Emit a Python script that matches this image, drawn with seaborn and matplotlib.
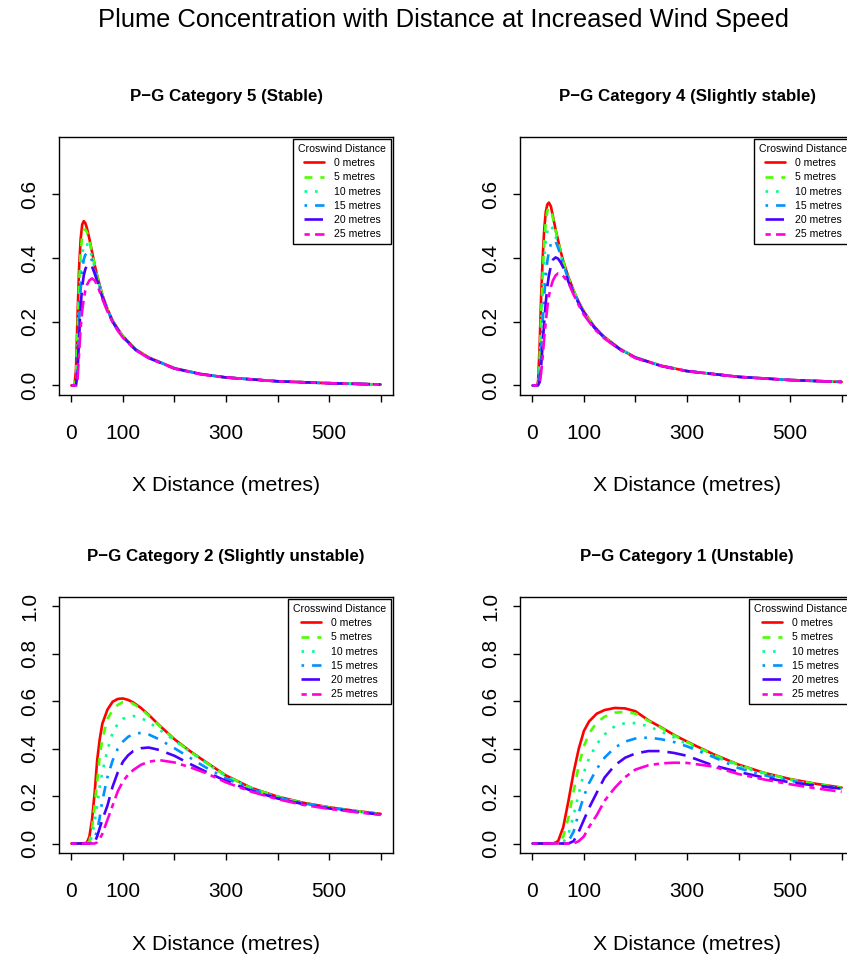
import matplotlib
matplotlib.use('Agg')
import matplotlib.pyplot as plt
import seaborn as sns

# distances along the plume (metres) and concentrations
cat5_x = [0, 6, 9, 12, 15, 18, 21, 24, 27, 30, 35, 40, 45, 50, 60, 70, 80, 90, 100, 125, 150, 200, 250, 300, 400, 500, 600]
cat5_0 = [0, 0, 0.05, 0.22, 0.37, 0.46, 0.505, 0.516, 0.51, 0.495, 0.46, 0.42, 0.38, 0.345, 0.285, 0.24, 0.204, 0.178, 0.155, 0.113, 0.088, 0.054, 0.036, 0.025, 0.013, 0.007, 0.003]
cat5_5 = [0, 0, 0.03, 0.17, 0.32, 0.42, 0.47, 0.488, 0.49, 0.482, 0.455, 0.418, 0.378, 0.344, 0.284, 0.239, 0.203, 0.177, 0.154, 0.113, 0.088, 0.054, 0.036, 0.025, 0.013, 0.007, 0.003]
cat5_10 = [0, 0, 0.01, 0.12, 0.26, 0.36, 0.415, 0.44, 0.447, 0.444, 0.43, 0.405, 0.372, 0.34, 0.282, 0.238, 0.202, 0.176, 0.154, 0.112, 0.087, 0.054, 0.036, 0.025, 0.013, 0.007, 0.003]
cat5_15 = [0, 0, 0, 0.07, 0.2, 0.3, 0.36, 0.395, 0.41, 0.415, 0.41, 0.392, 0.362, 0.335, 0.28, 0.236, 0.201, 0.175, 0.153, 0.112, 0.087, 0.054, 0.036, 0.025, 0.013, 0.007, 0.003]
cat5_20 = [0, 0, 0, 0.04, 0.15, 0.25, 0.31, 0.345, 0.365, 0.376, 0.381, 0.374, 0.352, 0.328, 0.277, 0.235, 0.2, 0.174, 0.152, 0.111, 0.086, 0.053, 0.036, 0.025, 0.013, 0.007, 0.003]
cat5_25 = [0, 0, 0, 0.02, 0.1, 0.18, 0.235, 0.27, 0.298, 0.315, 0.33, 0.336, 0.33, 0.316, 0.272, 0.232, 0.198, 0.172, 0.15, 0.11, 0.086, 0.053, 0.035, 0.025, 0.013, 0.007, 0.003]

cat4_x = [0, 8, 11, 14, 17, 20, 23, 26, 29, 32, 36, 40, 45, 50, 55, 60, 70, 80, 90, 100, 120, 140, 170, 200, 250, 300, 400, 500, 600]
cat4_0 = [0, 0, 0.01, 0.12, 0.28, 0.40, 0.49, 0.545, 0.568, 0.574, 0.562, 0.53, 0.49, 0.455, 0.42, 0.39, 0.34, 0.298, 0.262, 0.232, 0.185, 0.152, 0.115, 0.088, 0.062, 0.045, 0.027, 0.017, 0.011]
cat4_5 = [0, 0, 0.005, 0.08, 0.22, 0.35, 0.45, 0.515, 0.548, 0.558, 0.552, 0.525, 0.487, 0.452, 0.418, 0.388, 0.338, 0.297, 0.261, 0.231, 0.184, 0.151, 0.115, 0.088, 0.062, 0.045, 0.027, 0.017, 0.011]
cat4_10 = [0, 0, 0, 0.06, 0.18, 0.3, 0.39, 0.45, 0.483, 0.499, 0.502, 0.49, 0.467, 0.44, 0.41, 0.382, 0.335, 0.295, 0.26, 0.23, 0.183, 0.15, 0.114, 0.087, 0.062, 0.045, 0.027, 0.017, 0.011]
cat4_15 = [0, 0, 0, 0.03, 0.11, 0.2, 0.28, 0.345, 0.39, 0.42, 0.445, 0.456, 0.452, 0.432, 0.407, 0.38, 0.332, 0.293, 0.259, 0.229, 0.182, 0.15, 0.114, 0.087, 0.061, 0.045, 0.027, 0.017, 0.011]
cat4_20 = [0, 0, 0, 0.01, 0.06, 0.13, 0.2, 0.26, 0.31, 0.345, 0.375, 0.395, 0.402, 0.398, 0.386, 0.37, 0.325, 0.29, 0.257, 0.228, 0.182, 0.149, 0.113, 0.087, 0.061, 0.045, 0.027, 0.017, 0.011]
cat4_25 = [0, 0, 0, 0.005, 0.04, 0.09, 0.15, 0.2, 0.245, 0.28, 0.31, 0.33, 0.345, 0.352, 0.35, 0.343, 0.322, 0.285, 0.252, 0.222, 0.178, 0.147, 0.112, 0.086, 0.061, 0.045, 0.027, 0.017, 0.011]

cat2_x = [0, 20, 30, 35, 40, 45, 50, 55, 60, 70, 80, 90, 100, 110, 120, 135, 150, 170, 200, 230, 260, 300, 350, 400, 450, 500, 550, 600]
cat2_0 = [0, 0, 0.003, 0.03, 0.1, 0.21, 0.35, 0.44, 0.505, 0.565, 0.598, 0.61, 0.612, 0.606, 0.595, 0.572, 0.543, 0.5, 0.44, 0.39, 0.345, 0.287, 0.234, 0.198, 0.172, 0.153, 0.138, 0.125]
cat2_5 = [0, 0, 0, 0.01, 0.06, 0.16, 0.26, 0.37, 0.44, 0.525, 0.563, 0.585, 0.597, 0.597, 0.59, 0.568, 0.54, 0.498, 0.438, 0.388, 0.343, 0.286, 0.233, 0.197, 0.171, 0.152, 0.137, 0.125]
cat2_10 = [0, 0, 0, 0.005, 0.03, 0.09, 0.16, 0.24, 0.3, 0.395, 0.468, 0.505, 0.526, 0.535, 0.538, 0.53, 0.512, 0.482, 0.435, 0.388, 0.343, 0.283, 0.232, 0.196, 0.17, 0.152, 0.137, 0.124]
cat2_15 = [0, 0, 0, 0, 0.005, 0.02, 0.055, 0.11, 0.18, 0.28, 0.35, 0.4, 0.43, 0.45, 0.462, 0.467, 0.46, 0.44, 0.402, 0.362, 0.322, 0.275, 0.228, 0.194, 0.17, 0.151, 0.136, 0.124]
cat2_20 = [0, 0, 0, 0, 0, 0.005, 0.03, 0.065, 0.1, 0.16, 0.24, 0.3, 0.345, 0.372, 0.39, 0.402, 0.405, 0.395, 0.37, 0.336, 0.304, 0.264, 0.222, 0.19, 0.166, 0.148, 0.134, 0.122]
cat2_25 = [0, 0, 0, 0, 0, 0, 0.005, 0.02, 0.04, 0.1, 0.16, 0.22, 0.262, 0.29, 0.31, 0.332, 0.345, 0.352, 0.342, 0.322, 0.298, 0.258, 0.218, 0.187, 0.163, 0.146, 0.133, 0.121]

cat1_x = [0, 40, 50, 60, 70, 80, 90, 100, 110, 125, 140, 160, 180, 200, 225, 250, 275, 300, 350, 400, 450, 500, 550, 600]
cat1_0 = [0, 0, 0.01, 0.07, 0.18, 0.3, 0.4, 0.475, 0.515, 0.548, 0.563, 0.572, 0.57, 0.558, 0.52, 0.49, 0.458, 0.43, 0.378, 0.333, 0.298, 0.272, 0.252, 0.236]
cat1_5 = [0, 0, 0.003, 0.03, 0.11, 0.22, 0.33, 0.41, 0.465, 0.51, 0.535, 0.552, 0.555, 0.548, 0.518, 0.488, 0.456, 0.428, 0.376, 0.332, 0.297, 0.271, 0.251, 0.235]
cat1_10 = [0, 0, 0, 0.005, 0.04, 0.12, 0.21, 0.3, 0.36, 0.42, 0.46, 0.495, 0.508, 0.508, 0.495, 0.472, 0.447, 0.42, 0.37, 0.328, 0.294, 0.268, 0.248, 0.232]
cat1_15 = [0, 0, 0, 0, 0.01, 0.05, 0.13, 0.2, 0.255, 0.315, 0.362, 0.405, 0.43, 0.443, 0.447, 0.44, 0.428, 0.41, 0.366, 0.318, 0.288, 0.265, 0.246, 0.232]
cat1_20 = [0, 0, 0, 0, 0, 0.01, 0.05, 0.1, 0.15, 0.215, 0.278, 0.33, 0.362, 0.38, 0.39, 0.39, 0.382, 0.37, 0.33, 0.302, 0.278, 0.258, 0.244, 0.231]
cat1_25 = [0, 0, 0, 0, 0, 0, 0.01, 0.03, 0.07, 0.12, 0.18, 0.235, 0.28, 0.312, 0.33, 0.338, 0.341, 0.34, 0.325, 0.293, 0.27, 0.25, 0.233, 0.218]

labels = ['0 metres', '5 metres', '10 metres', '15 metres', '20 metres', '25 metres']
colours = ['#FF0000', '#49FF00', '#00FF92', '#0092FF', '#4900FF', '#FF00DB']
styles = ['-', (0, (3, 3)), (0, (1, 3)), (0, (1, 3, 4, 3)), (0, (7, 3)), (0, (2, 2, 6, 2))]

sns.set_theme(style='white')
plt.rcParams['font.family'] = ['Liberation Sans', 'DejaVu Sans']
plt.rcParams['axes.edgecolor'] = 'black'
plt.rcParams['axes.linewidth'] = 1.0
plt.rcParams['text.color'] = 'black'
plt.rcParams['axes.labelcolor'] = 'black'

fig = plt.figure(figsize=(8.47, 9.56), dpi=100)
fig.suptitle('Plume Concentration with Distance at Increased Wind Speed',
             x=443.5 / 847, y=1 - 20 / 956, va='center', fontsize=18.4)

W = 334 / 847
panels = [
    ([59 / 847, 1 - 395 / 956, W, 258 / 956], cat5_x, [cat5_0, cat5_5, cat5_10, cat5_15, cat5_20, cat5_25],
     'P\u2212G Category 5 (Stable)', 'Croswind Distance', 0.75, [0, 0.2, 0.4, 0.6]),
    ([520 / 847, 1 - 395 / 956, W, 258 / 956], cat4_x, [cat4_0, cat4_5, cat4_10, cat4_15, cat4_20, cat4_25],
     'P\u2212G Category 4 (Slightly stable)', 'Croswind Distance', 0.75, [0, 0.2, 0.4, 0.6]),
    ([59 / 847, 1 - 853 / 956, W, 256 / 956], cat2_x, [cat2_0, cat2_5, cat2_10, cat2_15, cat2_20, cat2_25],
     'P\u2212G Category 2 (Slightly unstable)', 'Crosswind Distance', 1.0, [0, 0.2, 0.4, 0.6, 0.8, 1.0]),
    ([520 / 847, 1 - 853 / 956, W, 256 / 956], cat1_x, [cat1_0, cat1_5, cat1_10, cat1_15, cat1_20, cat1_25],
     'P\u2212G Category 1 (Unstable)', 'Crosswind Distance', 1.0, [0, 0.2, 0.4, 0.6, 0.8, 1.0]),
]

for rect, x, ys, title, leg_title, ymax, yt in panels:
    ax = fig.add_axes(rect)
    for y, c, ls, lab in zip(ys, colours, styles, labels):
        sns.lineplot(x=x, y=y, ax=ax, color=c, linestyle=ls, linewidth=1.9, label=lab)
    ax.set_xlim(-24, 624)
    ax.set_ylim(-0.04 * ymax, 1.04 * ymax)
    ax.set_xticks([0, 100, 200, 300, 400, 500, 600])
    ax.set_xticklabels(['0', '100', '', '300', '', '500', ''])
    ax.set_yticks(yt)
    ax.set_yticklabels(['%.1f' % v for v in yt], rotation=90, va='center')
    ax.tick_params(axis='both', direction='out', length=5, width=1, labelsize=15,
                   colors='black', bottom=True, left=True)
    ax.tick_params(axis='x', pad=16)
    ax.tick_params(axis='y', pad=9)
    ax.set_xlabel('X Distance (metres)', fontsize=15.3, labelpad=24)
    ax.set_ylabel('')
    ax.set_title(title, fontweight='bold', fontsize=12.2, pad=26)
    leg = ax.legend(title=leg_title, loc='upper right', borderaxespad=0.15, fontsize=7.6,
                    title_fontsize=7.6, frameon=True, fancybox=False, edgecolor='black',
                    framealpha=1, handlelength=1.9, labelspacing=0.4, borderpad=0.5,
                    handletextpad=0.9)
    leg.get_frame().set_linewidth(1.0)

fig.savefig('out.png', dpi=100)
